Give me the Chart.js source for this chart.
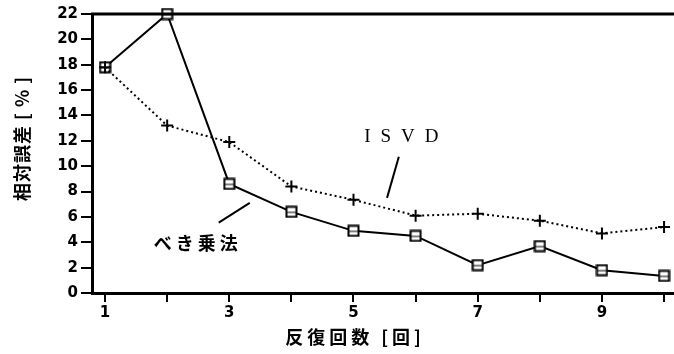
<!DOCTYPE html>
<html>
<head>
<meta charset="utf-8">
<script src="https://cdn.jsdelivr.net/npm/chart.js@4/dist/chart.umd.min.js"></script>
<style>
    html, body { margin: 0; padding: 0; background: #fff; }
    #wrap { width: 674px; height: 354px; }
</style>
</head>
<body>
<div id="wrap"><canvas id="chart" width="674" height="354"></canvas></div>
<script>
// =========================================================
// Data
// =========================================================

const iterations  = [1, 2, 3, 4, 5, 6, 7, 8, 9, 10];
const powerErr    = [17.8, 22.0, 8.6, 6.4, 4.9, 4.5, 2.2, 3.7, 1.8, 1.35];
const isvdErr     = [17.8, 13.2, 11.9, 8.4, 7.35, 6.1, 6.25, 5.7, 4.7, 5.2];
const xTicks      = [1, 2, 3, 4, 5, 6, 7, 8, 9, 10];
const xLabelTicks = [1, 3, 5, 7, 9];
const yTicks      = [0, 2, 4, 6, 8, 10, 12, 14, 16, 18, 20, 22];

const yTitle = '相対誤差 [ % ]';
const xTitle = '反復回数 [回]';

// annotation labels + leader lines, in data coordinates
const notes = [
    { text: 'ISVD', x: 5.77, y: 12.3, from: [5.73, 10.75], to: [5.54, 7.5],
      font: '19px "Liberation Serif", serif', spacing: 10 },
    { text: 'べき乗法', x: 2.46, y: 3.9, from: [2.83, 5.55], to: [3.33, 7.1],
      font: 'bold 18px "Noto Sans CJK JP", sans-serif', spacing: 4 },
];

const JP = '"Noto Sans CJK JP", "Noto Sans", sans-serif';

// =========================================================
// Square marker with a bar through it
// =========================================================

function squareMarker() {
    const c = document.createElement('canvas');
    c.width = 13; c.height = 13;
    const g = c.getContext('2d');
    g.fillStyle = '#fff';
    g.fillRect(1, 1, 11, 11);
    g.strokeStyle = '#000';
    g.lineWidth = 2;
    g.strokeRect(1.5, 1.5, 10, 10);
    g.lineWidth = 1;
    g.beginPath();
    g.moveTo(2, 7); g.lineTo(11, 7);
    g.stroke();
    return c;
}

// =========================================================
// Plugin: frame top line, axis titles, annotations
// =========================================================

const decor = {
    id: 'decor',
    afterDraw(chart) {
        const { ctx, chartArea: a, scales: { x, y } } = chart;
        ctx.save();
        ctx.strokeStyle = '#000';
        ctx.fillStyle = '#000';

        // top frame line
        ctx.lineWidth = 3;
        ctx.beginPath();
        ctx.moveTo(a.left - 1, a.top);
        ctx.lineTo(a.right, a.top);
        ctx.stroke();

        ctx.textAlign = 'center';
        ctx.textBaseline = 'middle';

        // axis titles
        ctx.font = 'bold 18px ' + JP;
        ctx.letterSpacing = '4px';
        ctx.fillText(xTitle, 353 + 2, 337);

        ctx.font = 'bold 18px ' + JP;
        ctx.letterSpacing = '1px';
        ctx.save();
        ctx.translate(22, 139);
        ctx.rotate(-Math.PI / 2);
        ctx.fillText(yTitle, 0.5, 0);
        ctx.restore();

        // annotations
        notes.forEach(n => {
            ctx.font = n.font;
            ctx.letterSpacing = n.spacing + 'px';
            ctx.fillText(n.text, x.getPixelForValue(n.x) + n.spacing / 2, y.getPixelForValue(n.y));
            ctx.lineWidth = 2;
            ctx.beginPath();
            ctx.moveTo(x.getPixelForValue(n.from[0]), y.getPixelForValue(n.from[1]));
            ctx.lineTo(x.getPixelForValue(n.to[0]), y.getPixelForValue(n.to[1]));
            ctx.stroke();
        });
        ctx.restore();
    }
};

// =========================================================
// Chart
// =========================================================

const tickFont = { family: '"DejaVu Sans", sans-serif', size: 15, weight: 'bold' };

new Chart(document.getElementById('chart'), {
    type: 'line',
    data: {
        datasets: [
            {
                label: 'ISVD',
                data: iterations.map((v, i) => ({ x: v, y: isvdErr[i] })),
                borderColor: '#000',
                borderWidth: 2,
                borderDash: [2, 3],
                pointStyle: 'cross',
                pointRadius: 6,
                pointBorderWidth: 2,
                pointBorderColor: '#000',
                tension: 0,
                clip: false,
            },
            {
                label: 'べき乗法',
                data: iterations.map((v, i) => ({ x: v, y: powerErr[i] })),
                borderColor: '#000',
                borderWidth: 2,
                pointStyle: squareMarker(),
                tension: 0,
                clip: false,
            },
        ],
    },
    options: {
        responsive: false,
        animation: false,
        layout: { autoPadding: false, padding: { top: 14, right: 0, left: 0, bottom: 0 } },
        plugins: { legend: { display: false }, tooltip: { enabled: false } },
        scales: {
            x: {
                type: 'linear',
                min: 0.79,
                max: 10.16,
                afterBuildTicks: s => { s.ticks = xTicks.map(v => ({ value: v })); },
                afterFit: s => { s.height = 61; s.paddingLeft = 0; s.paddingRight = 0; },
                border: { color: '#000', width: 3 },
                grid: { drawOnChartArea: false, color: '#000', lineWidth: 2, tickLength: 9 },
                ticks: {
                    color: '#000',
                    font: tickFont,
                    padding: 2,
                    maxRotation: 0,
                    autoSkip: false,
                    callback: v => xLabelTicks.includes(v) ? String(v) : '',
                },
            },
            y: {
                min: 0,
                max: 22,
                afterBuildTicks: s => { s.ticks = yTicks.map(v => ({ value: v })); },
                afterFit: s => { s.width = 92; s.paddingTop = 0; s.paddingBottom = 0; },
                border: { color: '#000', width: 3 },
                grid: { drawOnChartArea: false, color: '#000', lineWidth: 2, tickLength: 11 },
                ticks: { color: '#000', font: tickFont, padding: 3 },
            },
        },
    },
    plugins: [decor],
});
</script>
</body>
</html>
